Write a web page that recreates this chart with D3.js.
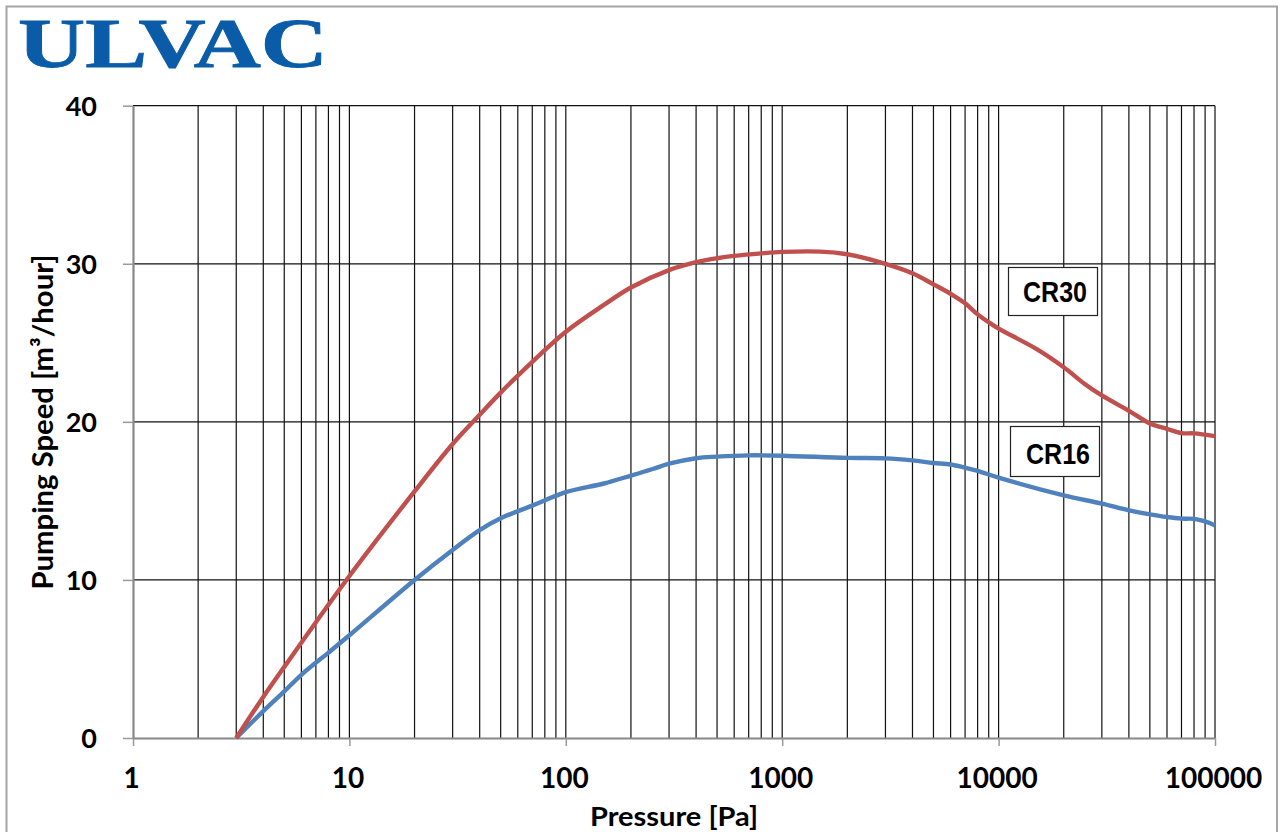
<!DOCTYPE html>
<html>
<head>
<meta charset="utf-8">
<script src="https://cdn.jsdelivr.net/npm/d3@7"></script>
<style>
  html, body { margin: 0; padding: 0; background: #ffffff; }
  svg { display: block; }
</style>
</head>
<body>
<svg id="chart" width="1284" height="832"></svg>
<script>
// ---- data ----
const seriesNames = ["CR30", "CR16"];
const pressureCR30 = [3, 4, 5, 10, 20, 30, 40, 50, 70, 100, 150, 200, 300, 400, 500, 600, 800, 1000, 1500, 2000, 3000, 4000, 5000, 6000, 7000, 8000, 9000, 10000, 15000, 20000, 25000, 30000, 40000, 50000, 60000, 70000, 80000, 100000];
const speedCR30    = [0, 2.6, 4.5, 10.25, 15.6, 18.6, 20.45, 21.85, 23.8, 25.7, 27.4, 28.5, 29.6, 30.1, 30.35, 30.5, 30.66, 30.75, 30.77, 30.6, 30.0, 29.4, 28.7, 28.1, 27.5, 26.8, 26.3, 25.9, 24.6, 23.45, 22.4, 21.67, 20.7, 19.9, 19.56, 19.29, 19.27, 19.1];
const pressureCR16 = [3, 4, 5, 6, 8, 10, 20, 30, 40, 50, 70, 100, 150, 200, 250, 300, 400, 500, 700, 1000, 2000, 3000, 4000, 5000, 6000, 7000, 8000, 10000, 20000, 30000, 40000, 50000, 60000, 70000, 80000, 90000, 100000];
const speedCR16    = [0, 1.7, 2.95, 4.0, 5.4, 6.5, 10.0, 11.9, 13.15, 13.9, 14.7, 15.55, 16.1, 16.6, 17.0, 17.35, 17.7, 17.8, 17.88, 17.86, 17.72, 17.69, 17.56, 17.4, 17.3, 17.1, 16.9, 16.47, 15.35, 14.83, 14.4, 14.15, 13.98, 13.88, 13.86, 13.7, 13.45];
const xTickValues = [1, 10, 100, 1000, 10000, 100000];
const yTickValues = [0, 10, 20, 30, 40];
const xTitle = "Pressure [Pa]";
const yTitle = "Pumping Speed [m³/hour]";
const logoText = "ULVAC";

// ---- layout ----
const svg = d3.select("#chart");
const x = d3.scaleLog().domain([1, 100000]).range([133, 1215]);
const y = d3.scaleLinear().domain([0, 40]).range([738, 105.7]);

// outer frame
svg.append("rect")
  .attr("x", 6.5).attr("y", 6.5).attr("width", 1270.5).attr("height", 860)
  .attr("fill", "none").attr("stroke", "#a5a5a5").attr("stroke-width", 2);

// logo
svg.append("text")
  .attr("x", 18).attr("y", 66.5)
  .attr("textLength", 310).attr("lengthAdjust", "spacingAndGlyphs")
  .style("font-family", "'Liberation Serif', 'DejaVu Serif', serif")
  .style("font-weight", "bold")
  .style("font-size", "69px")
  .attr("fill", "#0b5ca8")
  .attr("stroke", "#0b5ca8").attr("stroke-width", 0.8)
  .text(logoText);

// vertical gridlines at every 1..9 x 10^k
const gridX = [];
for (let k = 0; k < 5; k++) {
  for (let m = 1; m < 10; m++) {
    const v = m * Math.pow(10, k);
    if (v > 1) gridX.push(v);
  }
}
gridX.push(100000);

const grid = svg.append("g");
grid.selectAll("line.gx").data(gridX).enter().append("line")
  .attr("class", "gx")
  .attr("x1", d => x(d)).attr("x2", d => x(d))
  .attr("y1", y(40)).attr("y2", y(0))
  .attr("stroke", "#111").attr("stroke-width", 1.2);

grid.selectAll("line.gy").data(yTickValues.filter(d => d > 0)).enter().append("line")
  .attr("class", "gy")
  .attr("x1", x(1)).attr("x2", x(100000))
  .attr("y1", d => y(d)).attr("y2", d => y(d))
  .attr("stroke", "#111").attr("stroke-width", 1.2);

// axes
const xAxis = svg.append("g")
  .attr("transform", `translate(0,${y(0)})`)
  .call(d3.axisBottom(x).tickValues(xTickValues).tickFormat(d3.format("d")).tickSize(8).tickSizeOuter(0));
xAxis.select(".domain").attr("stroke", "#888").attr("stroke-width", 2.2);
xAxis.selectAll(".tick line").attr("stroke", "#999").attr("stroke-width", 1.5);
xAxis.selectAll(".tick text")
  .attr("y", 50).attr("dy", 0).attr("dx", -2)
  .attr("fill", "#000")
  .style("font-family", "Lato, 'Open Sans', sans-serif")
  .style("font-weight", "bold")
  .style("font-size", "28px");

const yAxis = svg.append("g")
  .attr("transform", `translate(${x(1)},0)`)
  .call(d3.axisLeft(y).tickValues(yTickValues).tickFormat(d3.format("d")).tickSize(10).tickSizeOuter(0));
yAxis.select(".domain").attr("stroke", "#888").attr("stroke-width", 2.2);
yAxis.selectAll(".tick line").attr("stroke", "#999").attr("stroke-width", 1.5);
yAxis.selectAll(".tick text")
  .attr("x", -36).attr("dy", "0.36em")
  .attr("fill", "#000")
  .style("font-family", "Lato, 'Open Sans', sans-serif")
  .style("font-weight", "bold")
  .style("font-size", "27px");

// axis titles
svg.append("text")
  .attr("x", 674).attr("y", 826)
  .attr("text-anchor", "middle")
  .attr("textLength", 168).attr("lengthAdjust", "spacingAndGlyphs")
  .style("font-family", "Lato, 'Open Sans', sans-serif")
  .style("font-weight", "bold")
  .style("font-size", "27px")
  .text(xTitle);

svg.append("text")
  .attr("transform", "translate(53,422) rotate(-90)")
  .attr("text-anchor", "middle")
  .attr("textLength", 335).attr("lengthAdjust", "spacingAndGlyphs")
  .style("font-family", "Lato, 'Open Sans', sans-serif")
  .style("font-weight", "bold")
  .style("font-size", "28px")
  .text(yTitle);

// curves
const line = d3.line()
  .x(d => x(d[0]))
  .y(d => y(d[1]))
  .curve(d3.curveCatmullRom.alpha(0.5));

const dataCR30 = pressureCR30.map((p, i) => [p, speedCR30[i]]);
const dataCR16 = pressureCR16.map((p, i) => [p, speedCR16[i]]);

svg.append("path").datum(dataCR16)
  .attr("d", line).attr("fill", "none")
  .attr("stroke", "#4f81bd").attr("stroke-width", 4.4).attr("stroke-linejoin", "round");
svg.append("path").datum(dataCR30)
  .attr("d", line).attr("fill", "none")
  .attr("stroke", "#c0504d").attr("stroke-width", 4.4).attr("stroke-linejoin", "round");

// series label boxes
const labels = [
  { name: seriesNames[0], x0: 1008, y0: 267, w: 89, h: 48, tx: 1023, ty: 302 },
  { name: seriesNames[1], x0: 1010, y0: 426, w: 89, h: 50, tx: 1026, ty: 463.5 }
];
labels.forEach(l => {
  svg.append("rect")
    .attr("x", l.x0 + 0.5).attr("y", l.y0 + 0.5).attr("width", l.w).attr("height", l.h)
    .attr("fill", "#fff").attr("stroke", "#222").attr("stroke-width", 1.2);
  svg.append("text")
    .attr("x", l.tx).attr("y", l.ty)
    .attr("textLength", 64).attr("lengthAdjust", "spacingAndGlyphs")
    .style("font-family", "'Liberation Sans', Arial, sans-serif")
    .style("font-weight", "bold")
    .style("font-size", "30px")
    .text(l.name);
});
</script>
</body>
</html>
